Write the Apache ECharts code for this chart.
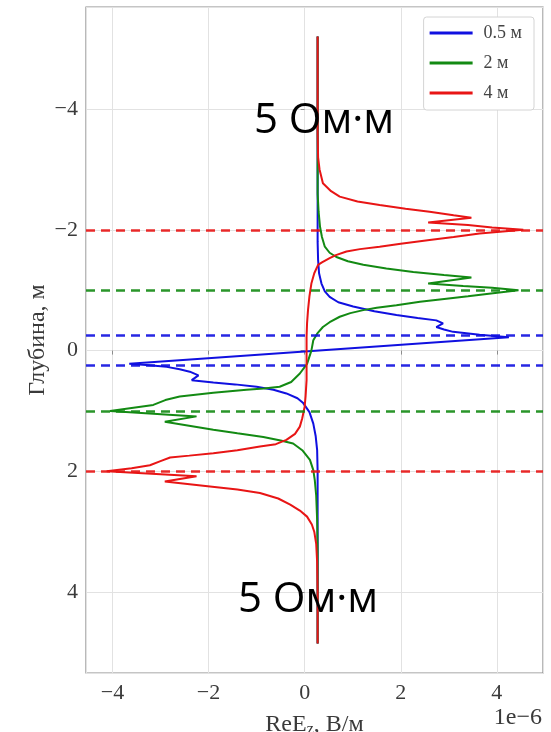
<!DOCTYPE html>
<html>
<head>
<meta charset="utf-8">
<script src="https://cdn.jsdelivr.net/npm/echarts@6/dist/echarts.min.js"></script>
<style>
html,body{margin:0;padding:0;background:#fff;}
#main{width:551px;height:732px;}
</style>
</head>
<body>
<div id="main"></div>
<script>
// ReEz, units of 1e-6 В/м, and depth in м
var names=['0.5 м','2 м','4 м'];
var colors=['#1010e0','#138a13','#e81515'];

var blueVal=[0.27,0.27,0.28,0.30,0.35,0.42,0.52,0.70,1.01,1.45,1.91,2.35,2.74,2.88,2.74,2.90,3.09,3.64,4.25,0.30,-3.65,-3.30,-2.87,-2.60,-2.39,-2.21,-2.35,-1.90,-1.45,-1.00,-0.65,-0.38,-0.15,-0.03,0.10,0.18,0.23,0.26,0.27,0.27];
var blueDepth=[-5.2,-1.8,-1.5,-1.28,-1.11,-0.98,-0.89,-0.80,-0.73,-0.65,-0.59,-0.54,-0.50,-0.45,-0.39,-0.35,-0.31,-0.26,-0.22,0.0,0.22,0.24,0.27,0.31,0.35,0.41,0.49,0.53,0.56,0.60,0.65,0.71,0.79,0.87,1.02,1.21,1.42,1.65,2.0,4.85];

var greenVal=[0.27,0.27,0.29,0.32,0.36,0.42,0.52,0.66,0.90,1.22,1.70,2.26,2.90,3.47,2.57,3.30,3.90,4.45,3.92,3.40,2.95,2.40,1.91,1.50,1.22,0.95,0.73,0.52,0.38,0.26,0.18,0.14,0.05,-0.10,-0.28,-0.52,-0.85,-1.21,-1.90,-2.60,-2.90,-3.15,-3.60,-4.05,-2.25,-2.91,-1.90,-1.40,-0.86,-0.50,-0.24,-0.05,0.11,0.18,0.21,0.24,0.26,0.27,0.27];
var greenDepth=[-5.2,-2.6,-2.3,-2.05,-1.88,-1.72,-1.62,-1.55,-1.48,-1.42,-1.36,-1.30,-1.25,-1.21,-1.11,-1.07,-1.04,-1.0,-0.95,-0.90,-0.86,-0.81,-0.75,-0.71,-0.67,-0.62,-0.56,-0.47,-0.39,-0.28,-0.17,0.0,0.22,0.38,0.52,0.60,0.63,0.65,0.70,0.76,0.82,0.90,0.95,1.0,1.09,1.18,1.31,1.37,1.43,1.49,1.54,1.65,1.81,1.98,2.14,2.4,2.8,3.3,4.85];

var redVal=[0.27,0.27,0.28,0.31,0.38,0.55,0.73,1.10,1.56,2.10,2.60,3.10,3.47,2.57,3.40,3.90,4.55,3.64,3.10,2.60,2.00,1.56,1.15,0.87,0.65,0.52,0.36,0.28,0.20,0.14,0.10,0.07,0.05,0.04,0.04,0.04,0.02,0.00,-0.05,-0.10,-0.20,-0.38,-0.60,-0.93,-1.40,-1.90,-2.40,-2.80,-3.00,-3.22,-3.60,-4.12,-2.25,-2.91,-1.97,-1.40,-0.93,-0.55,-0.30,-0.10,0.05,0.15,0.20,0.24,0.26,0.27,0.27];
var redDepth=[-5.2,-3.6,-3.2,-3.0,-2.77,-2.64,-2.55,-2.47,-2.41,-2.35,-2.30,-2.24,-2.20,-2.12,-2.08,-2.04,-2.0,-1.94,-1.88,-1.83,-1.77,-1.72,-1.68,-1.64,-1.58,-1.53,-1.46,-1.42,-1.28,-1.11,-0.90,-0.67,-0.45,-0.23,0.0,0.49,0.75,0.93,1.12,1.26,1.38,1.48,1.55,1.59,1.65,1.70,1.74,1.77,1.83,1.90,1.95,2.0,2.08,2.17,2.25,2.30,2.36,2.45,2.55,2.65,2.75,2.88,3.0,3.2,3.5,4.0,4.85];

// layer boundaries (dashed lines)
var blueLayer=[-0.25,0.25];
var greenLayer=[-1,1];
var redLayer=[-2,2];

var xTicks=[-4,-2,0,2,4];
var yTicks=[-4,-2,0,2,4];

var serif='"Liberation Serif","DejaVu Serif",serif';

function pairs(v,d){
    var out=[];
    for(var i=0;i<v.length;i++){
        out.push([v[i],d[i]]);
    }
    return out;
}
function minus(val){
    return String(val).replace('-','\u2212');
}
function tickFmt(list){
    return function(val){
        for(var i=0;i<list.length;i++){
            if(Math.abs(list[i]-val)<1e-6) return minus(list[i]);
        }
        return '';
    }
}
function makeSeries(name,color,v,d,layer){
    return {
        name:name,
        type:'line',
        color:color,
        data:pairs(v,d),
        showSymbol:false,
        symbol:'none',
        lineStyle:{color:color,width:2},
        markLine:{
            silent:true,
            symbol:'none',
            label:{show:false},
            lineStyle:{color:color,width:2.5,type:[9,6],opacity:0.9},
            data:layer.map(function(y){return {yAxis:y};})
        }
    }
}

var myChart=echarts.init(document.getElementById('main'));
var option={
    animation:false,
    backgroundColor:'#fff',
    grid:{
        left:86,right:8,top:7,bottom:59,
        show:true,borderColor:'#8c8c8c',borderWidth:1.2,
        containLabel:false,
        outerBoundsMode:'none'
    },
    legend:{
        orient:'vertical',
        right:17,top:17,
        data:names,
        icon:'rect',
        itemWidth:43,itemHeight:3,
        itemGap:12,
        padding:[7,12,8,6],
        borderColor:'#d4d4d4',borderWidth:1,borderRadius:3,
        backgroundColor:'#fff',
        textStyle:{fontFamily:serif,fontSize:18,color:'#444',lineHeight:16,padding:[0,0,0,6]}
    },
    xAxis:{
        type:'value',
        min:-4.55,max:4.96,
        splitNumber:5,
        axisLine:{show:false},
        axisTick:{show:true,length:4,lineStyle:{color:'#8c8c8c'}},
        axisLabel:{
            fontFamily:serif,fontSize:22,color:'#3a3a3a',margin:9,
            showMinLabel:false,showMaxLabel:false,
            formatter:tickFmt(xTicks)
        },
        splitLine:{show:true,lineStyle:{color:'#e2e2e2',width:1}},
        name:'{n|ReE}{s|z}{n|, В/м}',
        nameLocation:'middle',
        nameGap:39,
        nameTextStyle:{
            rich:{
                n:{fontFamily:serif,fontSize:24,color:'#3a3a3a'},
                s:{fontFamily:serif,fontSize:16,color:'#3a3a3a',verticalAlign:'bottom',padding:[10,0,0,0]}
            }
        }
    },
    yAxis:{
        type:'value',
        inverse:true,
        min:-5.69,max:5.34,
        splitNumber:5,
        axisLine:{show:false},
        axisTick:{show:true,length:4,lineStyle:{color:'#8c8c8c'}},
        axisLabel:{
            fontFamily:serif,fontSize:22,color:'#3a3a3a',margin:8,
            showMinLabel:false,showMaxLabel:false,
            formatter:tickFmt(yTicks)
        },
        splitLine:{show:true,lineStyle:{color:'#e2e2e2',width:1}},
        name:'Глубина, м',
        nameLocation:'middle',
        nameGap:36,
        nameMoveOverlap:false,
        nameTextStyle:{fontFamily:serif,fontSize:24,color:'#3a3a3a'}
    },
    graphic:[
        {
            type:'text',
            style:{x:542,y:706,text:'1e\u22126',font:'24px '+serif,fill:'#3a3a3a',align:'right',verticalAlign:'top'}
        },
        {
            type:'text',z:100,
            style:{x:324,y:121,text:'5 Ом·м',font:'42px "Open Sans","Noto Sans",sans-serif',fill:'#000',align:'center',verticalAlign:'middle'}
        },
        {
            type:'text',z:100,
            style:{x:308,y:600,text:'5 Ом·м',font:'42px "Open Sans","Noto Sans",sans-serif',fill:'#000',align:'center',verticalAlign:'middle'}
        }
    ],
    series:[
        makeSeries(names[0],colors[0],blueVal,blueDepth,blueLayer),
        makeSeries(names[1],colors[1],greenVal,greenDepth,greenLayer),
        makeSeries(names[2],colors[2],redVal,redDepth,redLayer)
    ]
};
myChart.setOption(option);
</script>
</body>
</html>
